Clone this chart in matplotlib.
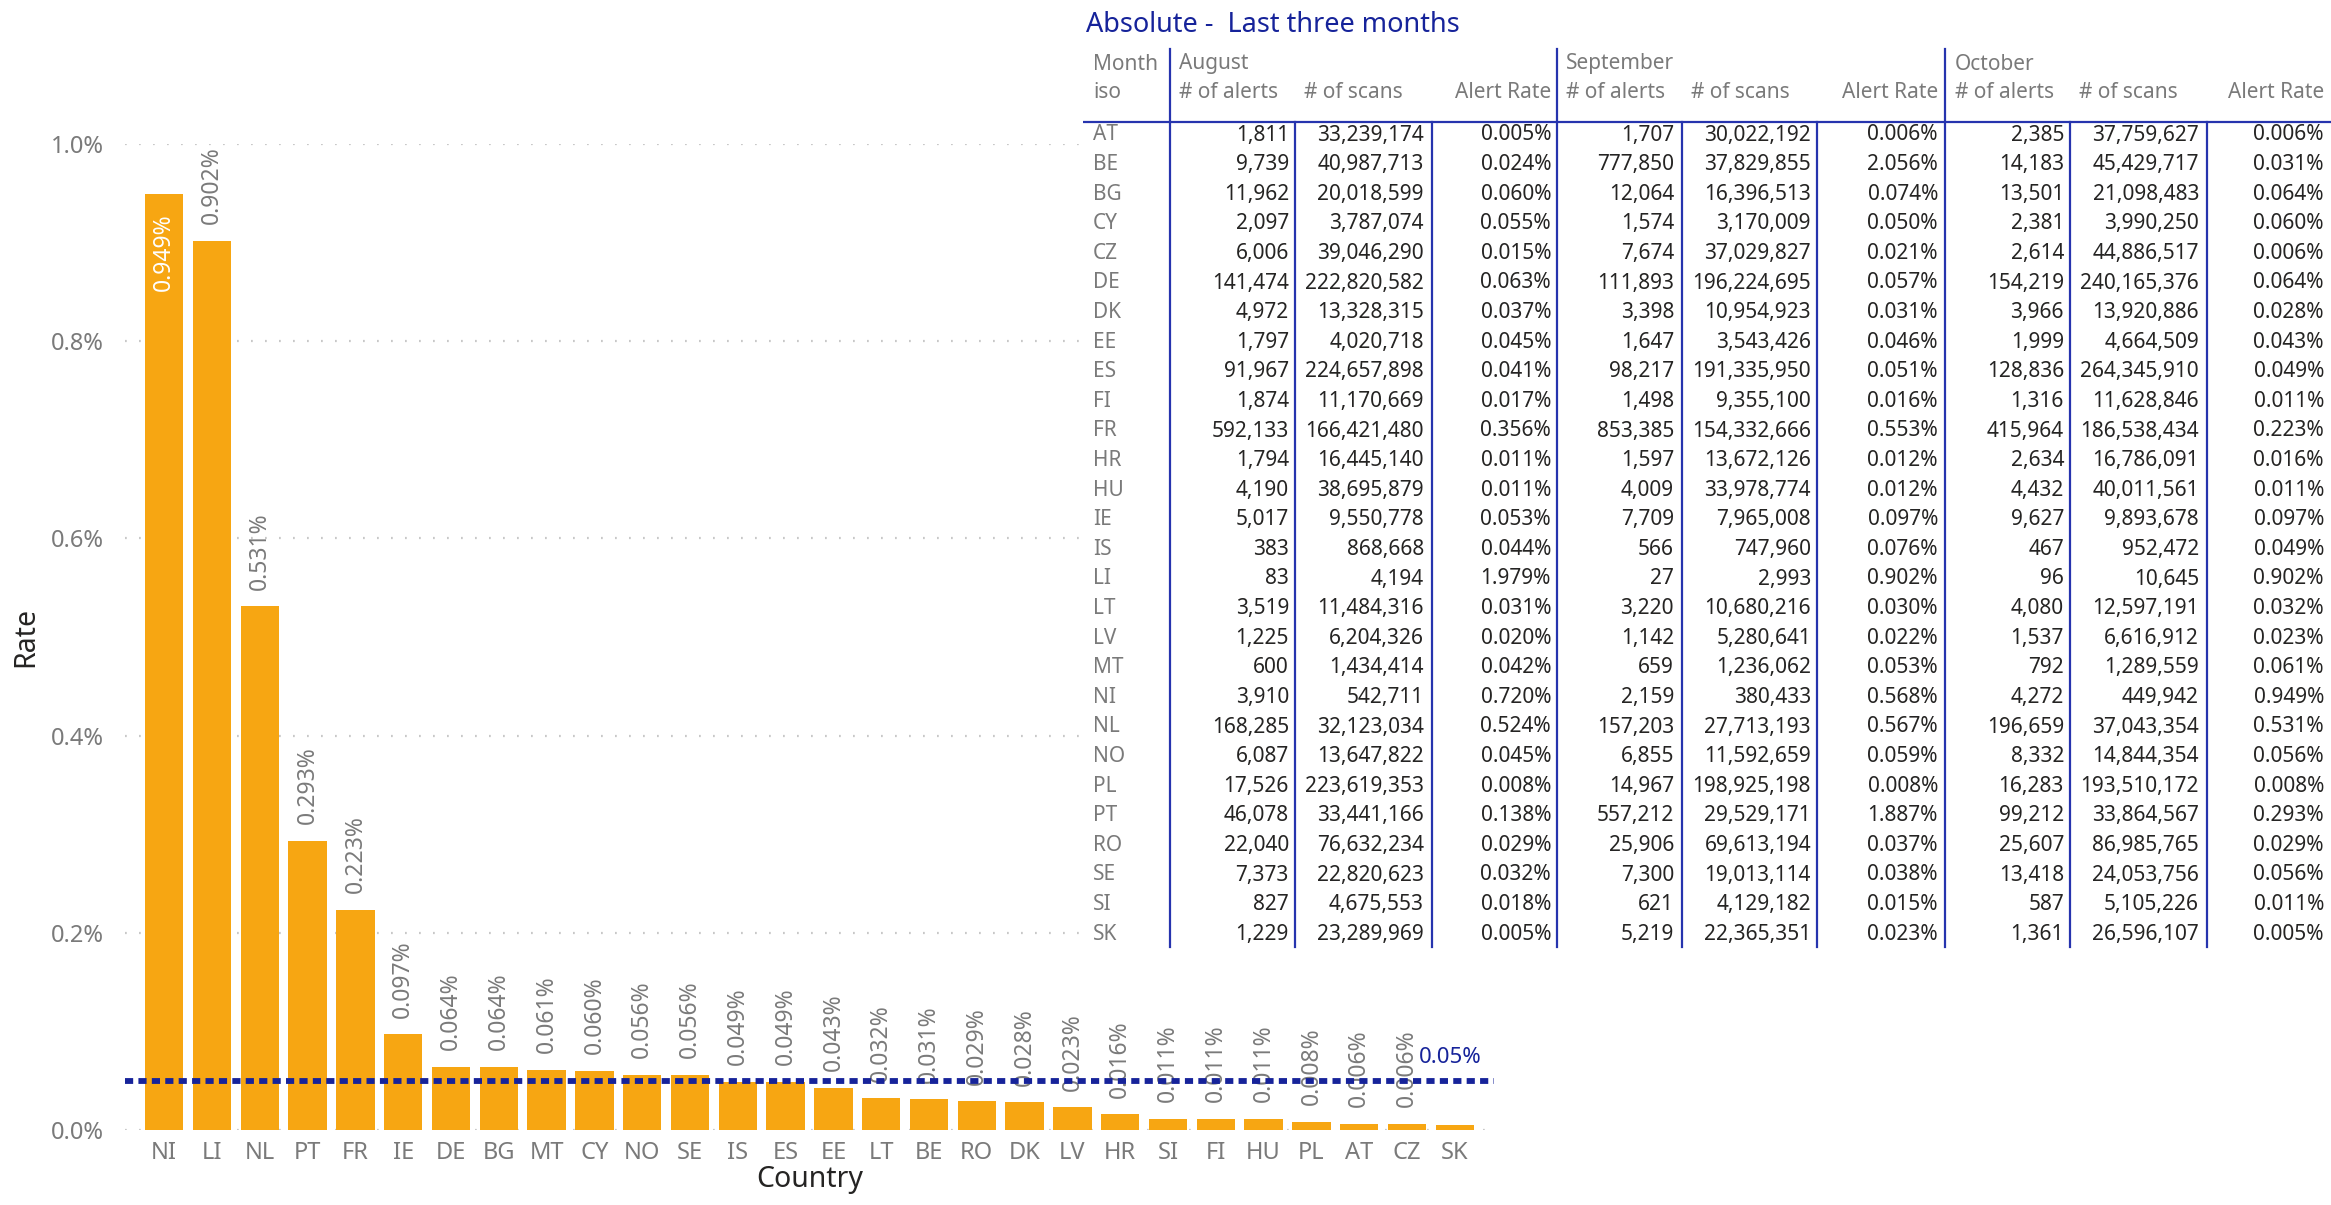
import matplotlib
matplotlib.use('Agg')
import matplotlib.pyplot as plt
import numpy as np

plt.rcParams['font.family'] = ['Noto Sans', 'DejaVu Sans']

# bar chart: October alert rate by country (sorted)
bar_countries = ['NI', 'LI', 'NL', 'PT', 'FR', 'IE', 'DE', 'BG', 'MT', 'CY', 'NO', 'SE', 'IS', 'ES',
                 'EE', 'LT', 'BE', 'RO', 'DK', 'LV', 'HR', 'SI', 'FI', 'HU', 'PL', 'AT', 'CZ', 'SK']
bar_rates = [0.949, 0.902, 0.531, 0.293, 0.223, 0.097, 0.064, 0.064, 0.061, 0.060, 0.056, 0.056, 0.049, 0.049,
             0.043, 0.032, 0.031, 0.029, 0.028, 0.023, 0.016, 0.011, 0.011, 0.011, 0.008, 0.006, 0.006, 0.005]
threshold = 0.05
yticks = [0.0, 0.2, 0.4, 0.6, 0.8, 1.0]

# table: last three months
iso = ['AT', 'BE', 'BG', 'CY', 'CZ', 'DE', 'DK', 'EE', 'ES', 'FI', 'FR', 'HR', 'HU', 'IE',
       'IS', 'LI', 'LT', 'LV', 'MT', 'NI', 'NL', 'NO', 'PL', 'PT', 'RO', 'SE', 'SI', 'SK']
months = ['August', 'September', 'October']

aug_alerts = [1811, 9739, 11962, 2097, 6006, 141474, 4972, 1797, 91967, 1874, 592133, 1794, 4190, 5017,
              383, 83, 3519, 1225, 600, 3910, 168285, 6087, 17526, 46078, 22040, 7373, 827, 1229]
aug_scans = [33239174, 40987713, 20018599, 3787074, 39046290, 222820582, 13328315, 4020718, 224657898,
             11170669, 166421480, 16445140, 38695879, 9550778, 868668, 4194, 11484316, 6204326, 1434414,
             542711, 32123034, 13647822, 223619353, 33441166, 76632234, 22820623, 4675553, 23289969]
aug_rate = [0.005, 0.024, 0.060, 0.055, 0.015, 0.063, 0.037, 0.045, 0.041, 0.017, 0.356, 0.011, 0.011, 0.053,
            0.044, 1.979, 0.031, 0.020, 0.042, 0.720, 0.524, 0.045, 0.008, 0.138, 0.029, 0.032, 0.018, 0.005]

sep_alerts = [1707, 777850, 12064, 1574, 7674, 111893, 3398, 1647, 98217, 1498, 853385, 1597, 4009, 7709,
              566, 27, 3220, 1142, 659, 2159, 157203, 6855, 14967, 557212, 25906, 7300, 621, 5219]
sep_scans = [30022192, 37829855, 16396513, 3170009, 37029827, 196224695, 10954923, 3543426, 191335950,
             9355100, 154332666, 13672126, 33978774, 7965008, 747960, 2993, 10680216, 5280641, 1236062,
             380433, 27713193, 11592659, 198925198, 29529171, 69613194, 19013114, 4129182, 22365351]
sep_rate = [0.006, 2.056, 0.074, 0.050, 0.021, 0.057, 0.031, 0.046, 0.051, 0.016, 0.553, 0.012, 0.012, 0.097,
            0.076, 0.902, 0.030, 0.022, 0.053, 0.568, 0.567, 0.059, 0.008, 1.887, 0.037, 0.038, 0.015, 0.023]

oct_alerts = [2385, 14183, 13501, 2381, 2614, 154219, 3966, 1999, 128836, 1316, 415964, 2634, 4432, 9627,
              467, 96, 4080, 1537, 792, 4272, 196659, 8332, 16283, 99212, 25607, 13418, 587, 1361]
oct_scans = [37759627, 45429717, 21098483, 3990250, 44886517, 240165376, 13920886, 4664509, 264345910,
             11628846, 186538434, 16786091, 40011561, 9893678, 952472, 10645, 12597191, 6616912, 1289559,
             449942, 37043354, 14844354, 193510172, 33864567, 86985765, 24053756, 5105226, 26596107]
oct_rate = [0.006, 0.031, 0.064, 0.060, 0.006, 0.064, 0.028, 0.043, 0.049, 0.011, 0.223, 0.016, 0.011, 0.097,
            0.049, 0.902, 0.032, 0.023, 0.061, 0.949, 0.531, 0.056, 0.008, 0.293, 0.029, 0.056, 0.011, 0.005]

ORANGE = '#F7A612'
NAVY = '#16239A'
LINE = '#2634AE'
GRAY = '#7A7A7A'
DARK = '#252423'

W, H = 2331, 1205
fig = plt.figure(figsize=(W / 100, H / 100), dpi=100)
fig.patch.set_facecolor('white')

# ---- bar chart ----
ax = fig.add_axes([125 / W, 1 - 1130 / H, (1494 - 125) / W, (1130 - 144) / H])
x = np.arange(len(bar_countries))
ax.bar(x, bar_rates, width=0.8, color=ORANGE, zorder=2)
ax.set_xlim(-0.82, len(bar_countries) - 1 + 0.82)
ax.set_ylim(0, 1.0)
ax.set_yticks(yticks)
ax.set_yticklabels([f'{t:.1f}%' for t in yticks])
ax.set_xticks(x)
ax.set_xticklabels(bar_countries)
ax.tick_params(axis='both', length=0, labelsize=17, labelcolor=GRAY)
ax.tick_params(axis='y', pad=15)
ax.tick_params(axis='x', pad=8)
for s in ax.spines.values():
    s.set_visible(False)
ax.yaxis.grid(True, color='#C8C8C8', linestyle=(0, (0.8, 5.5)), linewidth=1.6, zorder=0)
ax.set_axisbelow(True)
ax.set_xlabel('Country', fontsize=20.5, color=DARK, labelpad=0)
ax.set_ylabel('Rate', fontsize=20.5, color=DARK)
ax.yaxis.set_label_coords(-0.062, 0.5)

ax.axhline(threshold, color=NAVY, linewidth=4.2, linestyle=(0, (1.4, 0.9)), zorder=4)
ax.annotate(f'{threshold:.2f}%', xy=(len(bar_countries) - 1 + 0.56, threshold), xytext=(0, 9),
            textcoords='offset points', ha='right', va='bottom', fontsize=16, color=NAVY, zorder=5)

for i, v in enumerate(bar_rates):
    label = f'{v:.3f}%'
    if i == 0:
        ax.annotate(label, xy=(i, v), xytext=(0, -14), textcoords='offset points', rotation=90,
                    ha='center', va='top', fontsize=16.5, color='white', zorder=3)
    elif i < len(bar_rates) - 1:
        ax.annotate(label, xy=(i, v), xytext=(0, 12), textcoords='offset points', rotation=90,
                    ha='center', va='bottom', fontsize=16.5, color=GRAY, zorder=3)

# ---- table (pixel coordinates) ----
tx0, ty1 = 1083, 952
tax = fig.add_axes([tx0 / W, 1 - ty1 / H, (W - tx0) / W, ty1 / H])
tax.set_zorder(5)
tax.set_facecolor('white')
tax.set_xlim(tx0, W)
tax.set_ylim(ty1, 0)
tax.set_xticks([])
tax.set_yticks([])
for s in tax.spines.values():
    s.set_visible(False)

tax.text(1086, 25, 'Absolute -  Last three months', fontsize=19.5, color=NAVY, ha='left', va='center')
tax.text(1093, 64, 'Month', fontsize=15, color=GRAY, va='center')
tax.text(1093, 92, 'iso', fontsize=15, color=GRAY, va='center')

group_left = [1179, 1566, 1955]
scans_left = [1304, 1691, 2079]
col_right = [(1289, 1424, 1551), (1674, 1811, 1938), (2064, 2199, 2324)]
major_lines = [1170, 1557, 1945]
minor_lines = [1295, 1432, 1682, 1817, 2070, 2207]
month_data = [(aug_alerts, aug_scans, aug_rate), (sep_alerts, sep_scans, sep_rate),
              (oct_alerts, oct_scans, oct_rate)]

row_top, row_step = 135, 29.6
table_bottom = 947

for g, name in enumerate(months):
    tax.text(group_left[g], 64, name, fontsize=15, color=GRAY, va='center')
    tax.text(group_left[g], 92, '# of alerts', fontsize=15, color=GRAY, va='center')
    tax.text(scans_left[g], 92, '# of scans', fontsize=15, color=GRAY, va='center')
    tax.text(col_right[g][2], 92, 'Alert Rate', fontsize=15, color=GRAY, va='center', ha='right')

    alerts, scans, rate = month_data[g]
    for r in range(len(iso)):
        y = row_top + r * row_step
        tax.text(col_right[g][0], y, f'{alerts[r]:,}', fontsize=15, color=DARK, va='center', ha='right')
        tax.text(col_right[g][1], y, f'{scans[r]:,}', fontsize=15, color=DARK, va='center', ha='right')
        tax.text(col_right[g][2], y, f'{rate[r]:.3f}%', fontsize=15, color=DARK, va='center', ha='right')

for r, code in enumerate(iso):
    tax.text(1093, row_top + r * row_step, code, fontsize=15, color=GRAY, va='center')

tax.plot([tx0, W], [122, 122], color=LINE, linewidth=1.6)
for lx in major_lines:
    tax.plot([lx, lx], [49, table_bottom], color=LINE, linewidth=1.6)
for lx in minor_lines:
    tax.plot([lx, lx], [122, table_bottom], color=LINE, linewidth=1.6)

fig.savefig('out.png', dpi=100, facecolor='white')
